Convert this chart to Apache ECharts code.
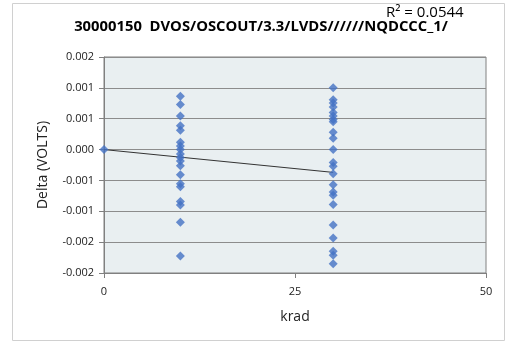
<!DOCTYPE html>
<html>
<head>
<meta charset="utf-8">
<script src="https://cdn.jsdelivr.net/npm/echarts@6/dist/echarts.min.js"></script>
<style>
html,body{margin:0;padding:0;background:#fff;}
#c{width:508px;height:345px;}
</style>
</head>
<body>
<div id="c"></div>
<script>
var titleText = '30000150  DVOS/OSCOUT/3.3/LVDS//////NQDCCC_1/';
var r2Text = 'R\u00B2 = 0.0544';
var xAxisName = 'krad';
var yAxisName = 'Delta (VOLTS)';
var xTicks = [0, 25, 50];
var yTickLabels = ['-0.002', '-0.002', '-0.001', '-0.001', '0.000', '0.001', '0.001', '0.002'];

var x0 = [0];
var y0 = [0.0];
var x10 = 10;
var y10 = [0.000862, 0.000729, 0.000542, 0.000385, 0.000313, 0.00012, 0.000056, 0.0,
  -0.000072, -0.000128, -0.000184, -0.000264, -0.000409, -0.000553, -0.000601,
  -0.000841, -0.000897, -0.001178, -0.001723];
var x30 = 30;
var y30 = [0.001002, 0.000809, 0.000753, 0.000689, 0.000601, 0.000542, 0.000489, 0.000449,
  0.00028, 0.000184, 0.0, -0.000208, -0.000269, -0.000393, -0.000569, -0.000686,
  -0.00074, -0.000889, -0.001221, -0.001434, -0.001647, -0.001712, -0.001851];
var trendX = [0, 30];
var trendY = [0.0, -0.00037];

var pts = [];
for (var i = 0; i < x0.length; i++) pts.push([x0[i], y0[i]]);
y10.forEach(function (v) { pts.push([x10, v]); });
y30.forEach(function (v) { pts.push([x30, v]); });
var trend = trendX.map(function (x, i) { return [x, trendY[i]]; });

var yMin = -0.002, yMax = 0.0015, yInt = 0.0005;
var font = '"Open Sans", "Liberation Sans", Arial, sans-serif';

var chart = echarts.init(document.getElementById('c'), null, {renderer: 'canvas'});
chart.setOption({
  animation: false,
  backgroundColor: '#fff',
  grid: {left: 104, right: 22, top: 57, bottom: 72, show: true,
    backgroundColor: '#e9eff1', borderColor: '#808080', borderWidth: 1},
  graphic: [
    {type: 'rect', shape: {x: 12.5, y: 3.5, width: 492, height: 337},
      style: {fill: 'none', stroke: '#d0d0d0', lineWidth: 1}, z: -10},
    {type: 'text', x: 261, y: 27, style: {text: titleText, font: 'bold 14.8px ' + font,
      fill: '#000', textAlign: 'center', textVerticalAlign: 'middle'}},
    {type: 'text', x: 386, y: 13, style: {text: r2Text, font: '15px ' + font,
      fill: '#000', textAlign: 'left', textVerticalAlign: 'middle'}}
  ],
  xAxis: {
    type: 'value', min: 0, max: 50, interval: 25,
    name: xAxisName, nameLocation: 'middle', nameGap: 37,
    nameTextStyle: {fontSize: 14, color: '#222', fontFamily: font},
    axisLine: {show: true, onZero: false, lineStyle: {color: '#808080'}},
    axisTick: {show: true, length: 5, lineStyle: {color: '#808080'}},
    axisLabel: {fontSize: 11, color: '#222', fontFamily: font, margin: 13},
    splitLine: {show: false}
  },
  yAxis: {
    type: 'value', min: yMin, max: yMax, interval: yInt,
    name: yAxisName, nameLocation: 'middle', nameGap: 54, nameRotate: 90,
    nameTextStyle: {fontSize: 14, color: '#222', fontFamily: font},
    axisLine: {show: true, onZero: false, lineStyle: {color: '#808080'}},
    axisTick: {show: true, length: 5, lineStyle: {color: '#808080'}},
    axisLabel: {fontSize: 11, color: '#222', fontFamily: font, margin: 10,
      formatter: function (v) {
        var idx = Math.round((v - yMin) / yInt);
        return yTickLabels[idx];
      }},
    splitLine: {show: true, lineStyle: {color: '#8c8c8c', width: 1}}
  },
  series: [
    {type: 'line', data: trend, symbol: 'none', lineStyle: {color: '#333', width: 1}, z: 2},
    {type: 'scatter', data: pts, symbol: 'diamond', symbolSize: 9,
      itemStyle: {color: '#4472C4'}, z: 3}
  ]
});
</script>
</body>
</html>
